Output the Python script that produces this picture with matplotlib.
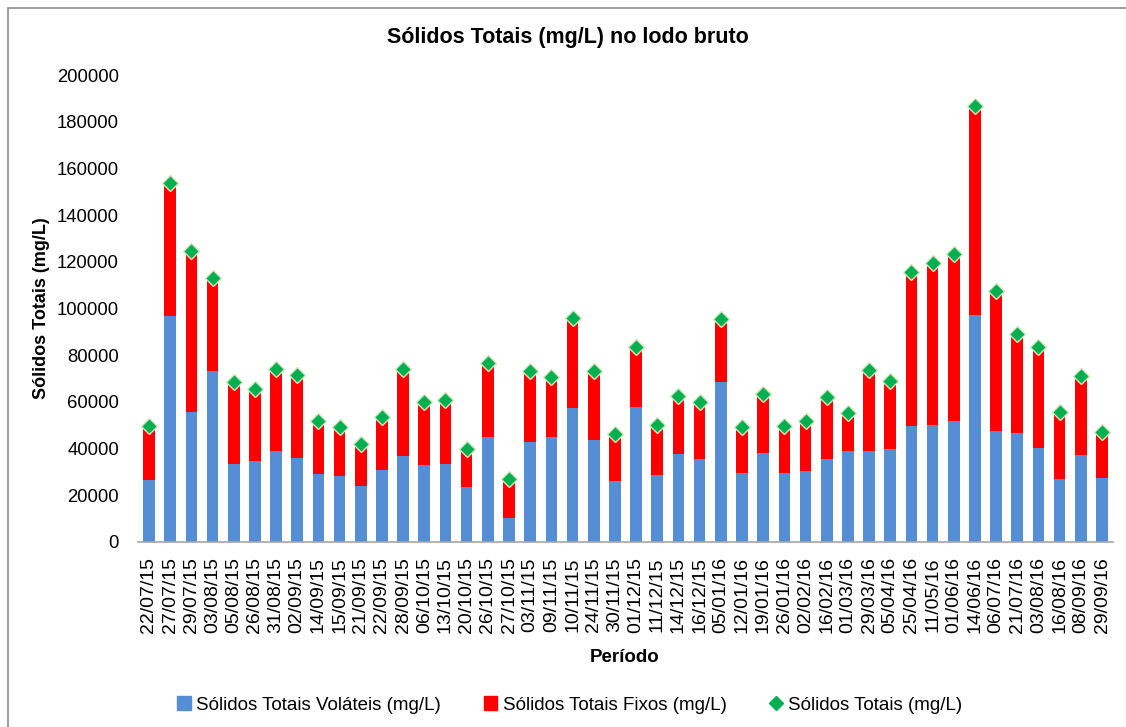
import matplotlib.pyplot as plt
import numpy as np
from matplotlib.patches import Rectangle
from matplotlib.lines import Line2D
from matplotlib.patches import Patch

plt.rcParams.update({
    'font.family': ['Liberation Sans', 'DejaVu Sans'],
    'font.size': 13,
})

# Data (mg/L)
datas = ["22/07/15", "27/07/15", "29/07/15", "03/08/15", "05/08/15", "26/08/15",
         "31/08/15", "02/09/15", "14/09/15", "15/09/15", "21/09/15", "22/09/15",
         "28/09/15", "06/10/15", "13/10/15", "20/10/15", "26/10/15", "27/10/15",
         "03/11/15", "09/11/15", "10/11/15", "24/11/15", "30/11/15", "01/12/15",
         "11/12/15", "14/12/15", "16/12/15", "05/01/16", "12/01/16", "19/01/16",
         "26/01/16", "02/02/16", "16/02/16", "01/03/16", "29/03/16", "05/04/16",
         "25/04/16", "11/05/16", "01/06/16", "14/06/16", "06/07/16", "21/07/16",
         "03/08/16", "16/08/16", "08/09/16", "29/09/16"]

volateis = [26700, 96900, 55500, 73400, 33500, 34800, 39100, 36100, 29100, 28300,
            23800, 30700, 37000, 33100, 33500, 23600, 45100, 10400, 43000, 44800,
            57400, 43500, 26000, 57700, 28800, 37500, 35700, 68400, 29400, 38000,
            29400, 30400, 35400, 39100, 39100, 39800, 49500, 50300, 52000, 97400,
            47400, 46500, 40100, 27000, 37300, 27300]

fixos = [22800, 56900, 69000, 39700, 34900, 30900, 35100, 35400, 22600, 20800,
         18200, 22700, 37100, 27000, 27200, 16400, 31600, 16700, 30100, 25900,
         38500, 29600, 20300, 25700, 21200, 25200, 24300, 27200, 19900, 25200,
         20100, 21300, 26600, 16100, 34700, 29000, 66100, 69200, 71300, 89500,
         60000, 42600, 43400, 28500, 33900, 19800]

totais = [49500, 153800, 124500, 113100, 68400, 65700, 74200, 71500, 51700, 49100,
          42000, 53400, 74100, 60100, 60700, 40000, 76700, 27100, 73100, 70700,
          95900, 73100, 46300, 83400, 50000, 62700, 60000, 95600, 49300, 63200,
          49500, 51700, 62000, 55200, 73800, 68800, 115600, 119500, 123300, 186900,
          107400, 89100, 83500, 55500, 71200, 47100]

cor_vol = "#558ED5"
cor_fix = "#FF0000"
cor_tot = "#00B050"

fig = plt.figure(figsize=(11.26, 7.27), dpi=100)
ax = fig.add_axes([138.4 / 1126, 1 - 542 / 727, (1112.6 - 138.4) / 1126, (542 - 75) / 727])

x = np.arange(len(datas))
ax.bar(x, volateis, width=0.55, color=cor_vol, zorder=2)
ax.bar(x, fixos, width=0.55, bottom=volateis, color=cor_fix, zorder=2)
ax.plot(x, totais, linestyle='none', marker='D', markersize=8.5,
        markerfacecolor=cor_tot, markeredgecolor='#D7E4BD', markeredgewidth=1, zorder=3)

ax.set_xlim(-0.5, len(datas) - 0.5)
ax.set_ylim(0, 200000)
ax.set_yticks(np.arange(0, 200001, 20000))
ax.set_xticks(x)
ax.set_xticklabels(datas, rotation=90)
ax.tick_params(axis='y', length=0, pad=14, labelsize=13.3)
ax.tick_params(axis='x', length=0, pad=11, labelsize=14)

for s in ['top', 'right', 'left']:
    ax.spines[s].set_visible(False)
ax.spines['bottom'].set_color('#A6A6A6')
ax.spines['bottom'].set_linewidth(1.2)

fig.text(568 / 1126, 1 - 37 / 727, "Sólidos Totais (mg/L) no lodo bruto",
         ha='center', va='center', fontsize=15.5, fontweight='bold')
fig.text(42 / 1126, 1 - 308 / 727, "Sólidos Totais (mg/L)", rotation=90,
         ha='center', va='center', fontsize=13, fontweight='bold')
fig.text(625 / 1126, 1 - 657 / 727, "Período",
         ha='center', va='center', fontsize=13.5, fontweight='bold')

handles = [Patch(color=cor_vol), Patch(color=cor_fix),
           Line2D([], [], linestyle='none', marker='D', markersize=7,
                  markerfacecolor=cor_tot, markeredgecolor=cor_tot)]
labels = ["Sólidos Totais Voláteis (mg/L)", "Sólidos Totais Fixos (mg/L)", "Sólidos Totais (mg/L)"]
fig.legend(handles, labels, loc='center', bbox_to_anchor=(570 / 1126, 1 - 705 / 727),
           ncol=3, frameon=False, fontsize=13.5, handlelength=0.7, handleheight=0.7,
           handletextpad=0.3, columnspacing=2.3)

# outer chart border (only top and left visible in the reference)
fig.patches.append(Rectangle((8 / 1126, -0.1), 1.2, 1 - 8 / 727 + 0.1,
                             transform=fig.transFigure, fill=False,
                             edgecolor='#8C8C8C', linewidth=1.2))

fig.savefig("out.png", dpi=100)
